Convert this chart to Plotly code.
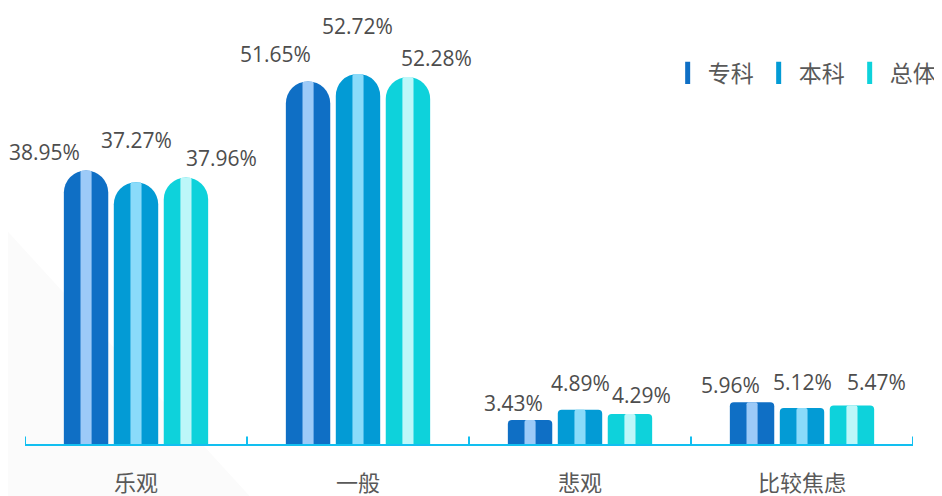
import plotly.graph_objects as go

# data
categories = ['乐观', '一般', '悲观', '比较焦虑']
series_names = ['专科', '本科', '总体']
zhuanke = [38.95, 51.65, 3.43, 5.96]
benke = [37.27, 52.72, 4.89, 5.12]
zongti = [37.96, 52.28, 4.29, 5.47]

# styles
body_colors = ['#0F6FC5', '#039BD5', '#0ED2DB']
stripe_colors = ['#9CCAF8', '#8ADBFA', '#BDF7F9']
font_family = 'Open Sans, Noto Sans CJK SC, sans-serif'
text_color = '#595959'
label_color = '#4D4D4D'
axis_color = '#12BFF0'

# label offsets in px (dx, dy) per series per category
label_dx = [[-42, -33, -17, -22], [0, -1, 0, 0], [36, 29, 12, 25]]
label_dy = [[19, 27, 17, 17], [42, 48, 27, 26], [20, 19, 19, 24]]

bar_w = 0.2
stripe_w = 0.05
step = 0.225

fig = go.Figure()

all_values = [zhuanke, benke, zongti]
x_idx = list(range(len(categories)))

for i, (name, vals) in enumerate(zip(series_names, all_values)):
    center = (i - 1) * step
    tall = [v if v > 20 else None for v in vals]
    short = [v if v <= 20 else None for v in vals]
    # body with round cap for tall bars
    fig.add_trace(go.Bar(
        x=x_idx, y=tall, name=name, width=bar_w, offset=center - bar_w / 2,
        marker=dict(color=body_colors[i], cornerradius='50%', line=dict(width=0)),
        showlegend=False, hoverinfo='skip'
    ))
    # body with shallow cap for short bars
    fig.add_trace(go.Bar(
        x=x_idx, y=short, name=name, width=bar_w, offset=center - bar_w / 2,
        marker=dict(color=body_colors[i], cornerradius=4, line=dict(width=0)),
        showlegend=False, hoverinfo='skip'
    ))
    # light stripe in the middle
    fig.add_trace(go.Bar(
        x=x_idx, y=vals, name=name, width=stripe_w, offset=center - stripe_w / 2,
        marker=dict(color=stripe_colors[i], cornerradius=2, line=dict(width=0)),
        showlegend=False, hoverinfo='skip'
    ))
    # legend-only entry with a narrow bar icon
    fig.add_trace(go.Scatter(
        x=[None], y=[None], name=name, mode='markers',
        marker=dict(symbol='line-ns', size=16,
                    line=dict(color=body_colors[i], width=8)),
        hoverinfo='skip'
    ))
    for j, v in enumerate(vals):
        fig.add_annotation(
            x=j + center, y=v, xref='x', yref='y',
            text=f'{v:.2f}%', showarrow=False,
            xshift=label_dx[i][j], yshift=label_dy[i][j],
            xanchor='center', yanchor='middle',
            font=dict(size=21, color=label_color, family=font_family)
        )

# faint background wedge at lower left
fig.add_shape(
    type='path', xref='paper', yref='paper', layer='below',
    path='M -0.0281,0.509 L 0.253,-0.12 L -0.0281,-0.12 Z',
    fillcolor='#FBFBFB', line=dict(width=0)
)

# page body has an 8px margin, so the figure is sized to the visible window
fig.update_layout(
    width=934, height=488,
    margin=dict(l=17, r=28, t=2, b=52),
    barmode='overlay',
    plot_bgcolor='rgba(0,0,0,0)',
    paper_bgcolor='white',
    font=dict(family=font_family, color=text_color),
    legend=dict(
        orientation='h', x=1.03, y=0.855, xanchor='right', yanchor='middle',
        font=dict(size=23, color=text_color, family=font_family),
        itemwidth=30, bgcolor='rgba(0,0,0,0)'
    ),
    xaxis=dict(
        range=[-0.5, 3.5], automargin=False,
        tickmode='array', tickvals=x_idx, ticktext=categories,
        showgrid=False, zeroline=False,
        showline=True, linecolor=axis_color, linewidth=2,
        ticks='', ticklabelstandoff=19,
        tickfont=dict(size=22, color=text_color, family=font_family)
    ),
    yaxis=dict(range=[0, 61.82], visible=False, showgrid=False,
               zeroline=False, automargin=False),
)

# boundary ticks pointing up from the axis line
for k in range(len(categories) + 1):
    fig.add_shape(
        type='line', xref='x', yref='paper',
        x0=k - 0.5, x1=k - 0.5, y0=0, y1=0.017,
        line=dict(color=axis_color, width=2)
    )

fig.write_html('out.html')
